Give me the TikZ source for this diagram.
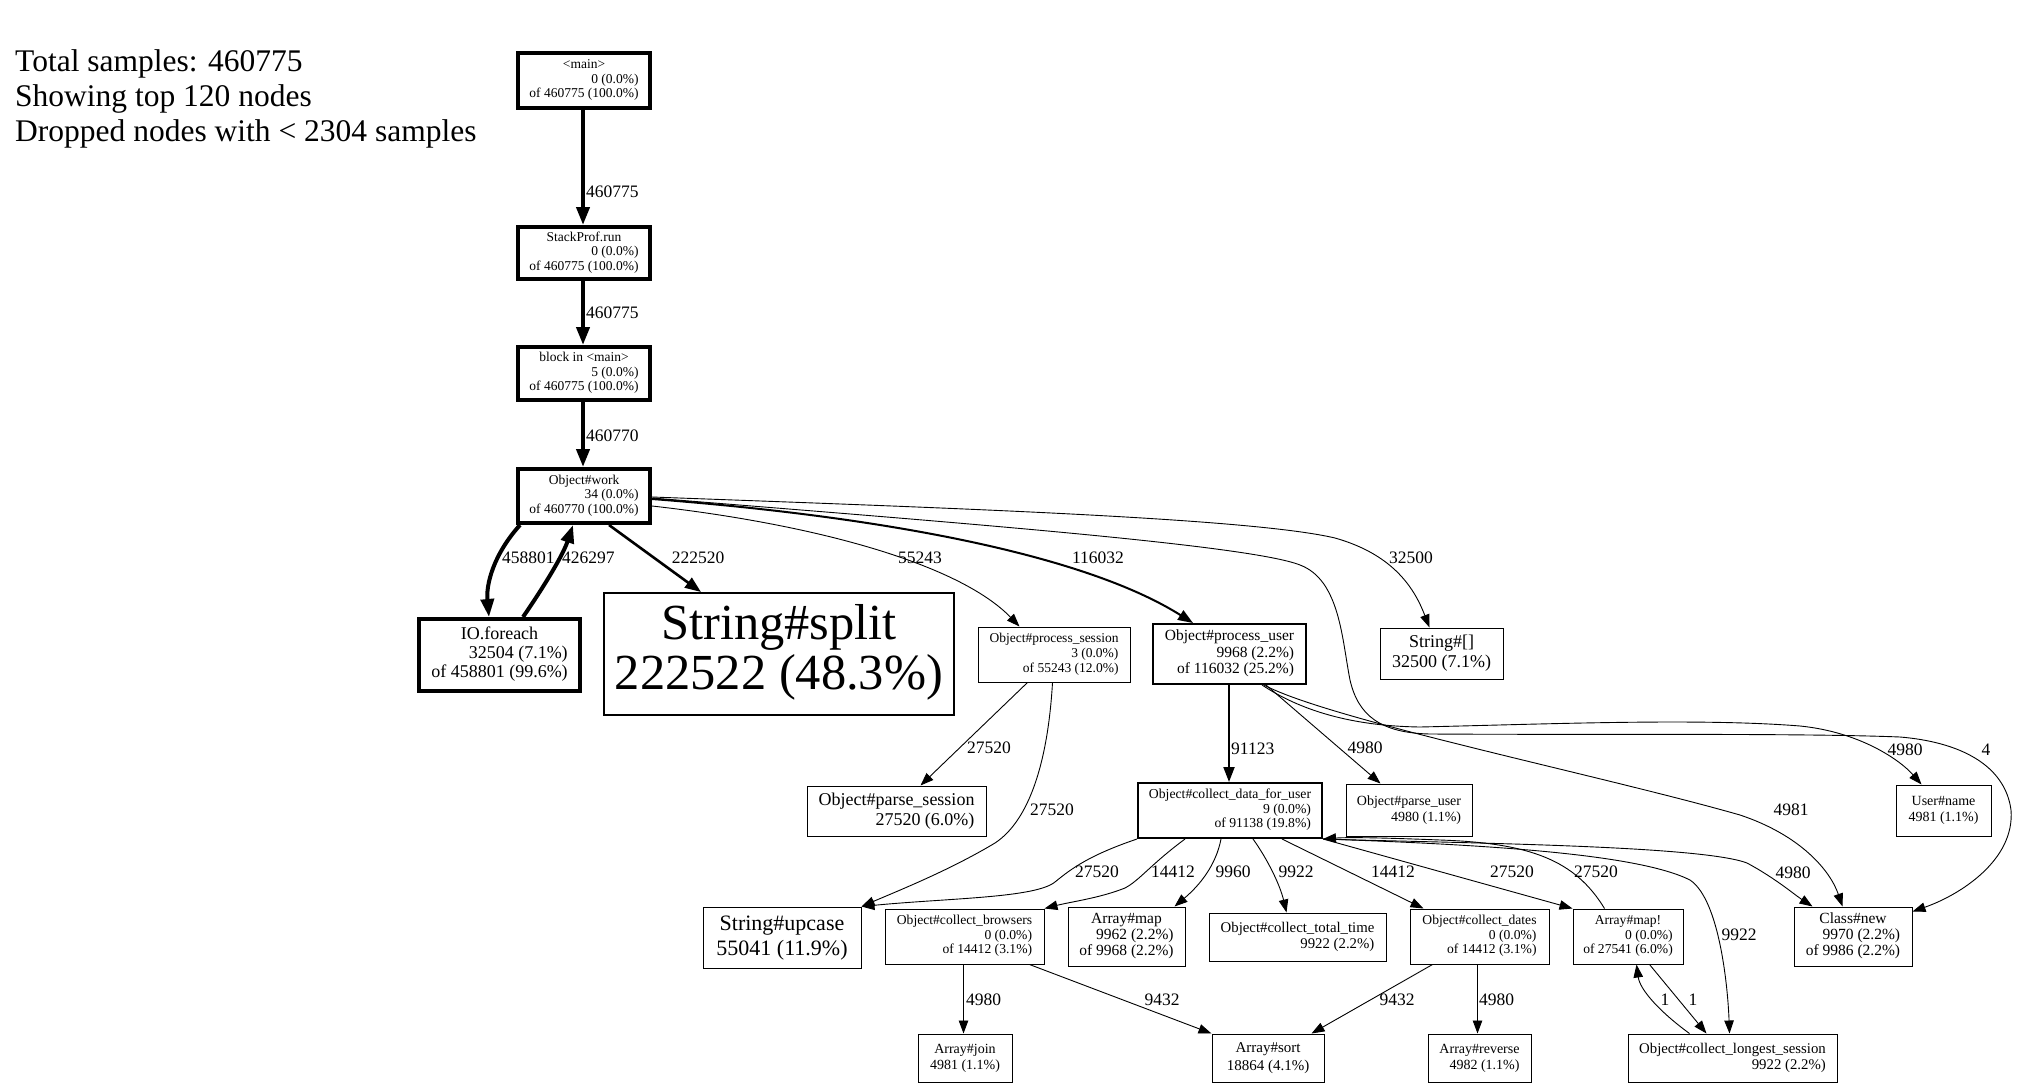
\documentclass[tikz,border=0pt]{standalone}
\usepackage{fontspec}
\setmainfont{Liberation Serif}
\usetikzlibrary{arrows.meta}
\newcommand\gnode[9]{\node[#2, font=\fontsize{#7}{#8}\selectfont, minimum width={#5-#3}, minimum height={#6-#4}] (#1) at ({(#3+#5)/2},{(#4+#6)/2}) {#9};}
\newcommand\lthree[3]{\begin{tabular}{@{}r@{}}\multicolumn{1}{@{}c@{}}{#1}\\#2\\#3\end{tabular}}
\newcommand\ltwo[2]{\begin{tabular}{@{}r@{}}\multicolumn{1}{@{}c@{}}{#1}\\#2\end{tabular}}
\begin{document}
\begin{tikzpicture}[x=1pt,y=-1pt,
  b1/.style={draw, line width=1pt, inner sep=0pt, rectangle},
  b2/.style={draw, line width=2pt, inner sep=0pt, rectangle},
  b4/.style={draw, line width=4pt, inner sep=0pt, rectangle},
  ln1/.style={draw, line width=0.9pt, -{Triangle[length=13pt,width=9.5pt]}},
  ln2/.style={draw, line width=2pt, -{Triangle[length=15pt,width=11pt]}},
  ln3/.style={draw, line width=2.6pt, -{Triangle[length=16pt,width=12pt]}},
  ln4/.style={draw, line width=4pt, -{Triangle[length=18pt,width=13pt]}},
  elab/.style={font=\fontsize{17.5}{20}\selectfont, inner sep=0pt},
  leg/.style={font=\fontsize{31.5}{35}\selectfont, inner sep=0pt, anchor=base west}]
\fill[white] (0,0) rectangle (2018,1089);
\useasboundingbox (0,0) rectangle (2018,1089);

% legend
\node[leg] (leg1) at (15,72) {Total samples: 460775};
\node[leg] (leg2) at (15,107) {Showing top 120 nodes};
\node[leg] (leg3) at (15,142) {Dropped nodes with < 2304 samples};

% nodes
\gnode{main}{b4}{518}{53}{650}{108}{13.5}{14.5}{\lthree{<main>}{0 (0.0\%)}{of 460775 (100.0\%)}}
\gnode{sp}{b4}{518}{227}{650}{279}{13.5}{14.5}{\lthree{StackProf.run}{0 (0.0\%)}{of 460775 (100.0\%)}}
\gnode{blk}{b4}{518}{347}{650}{400}{13.5}{14.5}{\lthree{block in <main>}{5 (0.0\%)}{of 460775 (100.0\%)}}
\gnode{work}{b4}{518}{469}{650}{523}{13.5}{14.5}{\lthree{Object\#work}{34 (0.0\%)}{of 460770 (100.0\%)}}
\gnode{io}{b4}{419}{619}{580}{691}{18}{19}{\lthree{IO.foreach}{32504 (7.1\%)}{of 458801 (99.6\%)}}
\gnode{split}{b2}{604}{593}{954}{715}{50.5}{50}{\ltwo{String\#split}{222522 (48.3\%)}}
\gnode{psess}{b1}{978}{627}{1130}{682}{13.5}{15}{\lthree{Object\#process\_session}{3 (0.0\%)}{of 55243 (12.0\%)}}
\gnode{puser}{b2}{1153}{624}{1306}{684}{15.5}{16.5}{\lthree{Object\#process\_user}{9968 (2.2\%)}{of 116032 (25.2\%)}}
\gnode{strbr}{b1}{1380}{628}{1503}{679}{18}{19.5}{\ltwo{String\#[]}{32500 (7.1\%)}}
\gnode{cdata}{b2}{1138}{783}{1322}{838}{13.7}{14.5}{\lthree{Object\#collect\_data\_for\_user}{9 (0.0\%)}{of 91138 (19.8\%)}}
\gnode{puse}{b1}{1346}{784}{1472}{836}{14}{16}{\ltwo{Object\#parse\_user}{4980 (1.1\%)}}
\gnode{pses}{b1}{807}{786}{986}{836}{18}{20}{\ltwo{Object\#parse\_session}{27520 (6.0\%)}}
\gnode{uname}{b1}{1896}{785}{1991}{836}{14}{16}{\ltwo{User\#name}{4981 (1.1\%)}}
\gnode{upcase}{b1}{703}{907}{861}{968}{22}{25}{\ltwo{String\#upcase}{55041 (11.9\%)}}
\gnode{cbrow}{b1}{885}{909}{1044}{964}{13.6}{14.5}{\lthree{Object\#collect\_browsers}{0 (0.0\%)}{of 14412 (3.1\%)}}
\gnode{amap}{b1}{1068}{907}{1185}{966}{15.5}{16}{\lthree{Array\#map}{9962 (2.2\%)}{of 9968 (2.2\%)}}
\gnode{ctot}{b1}{1209}{913}{1386}{961}{14.8}{16}{\ltwo{Object\#collect\_total\_time}{9922 (2.2\%)}}
\gnode{cdat}{b1}{1410}{909}{1549}{964}{13.6}{14.5}{\lthree{Object\#collect\_dates}{0 (0.0\%)}{of 14412 (3.1\%)}}
\gnode{amapb}{b1}{1573}{909}{1683}{964}{13.6}{14.5}{\lthree{Array\#map!}{0 (0.0\%)}{of 27541 (6.0\%)}}
\gnode{cnew}{b1}{1794}{907}{1912}{966}{15.5}{16}{\lthree{Class\#new}{9970 (2.2\%)}{of 9986 (2.2\%)}}
\gnode{ajoin}{b1}{918}{1034}{1012}{1082}{14}{16}{\ltwo{Array\#join}{4981 (1.1\%)}}
\gnode{asort}{b1}{1212}{1034}{1324}{1082}{15}{18}{\ltwo{Array\#sort}{18864 (4.1\%)}}
\gnode{arev}{b1}{1428}{1034}{1531}{1082}{14}{16}{\ltwo{Array\#reverse}{4982 (1.1\%)}}
\gnode{clong}{b1}{1628}{1034}{1837}{1082}{14.8}{16}{\ltwo{Object\#collect\_longest\_session}{9922 (2.2\%)}}

% edges
\draw[ln4] ([xshift=67]main.south west) -- ([xshift=67]sp.north west);
\node[elab, anchor=west] (l1) at (586,192) {460775};
\draw[ln4] ([xshift=67]sp.south west) -- ([xshift=67]blk.north west);
\node[elab, anchor=west] (l2) at (586,313) {460775};
\draw[ln4] ([xshift=67]blk.south west) -- ([xshift=67]work.north west);
\node[elab, anchor=west] (l3) at (586,436) {460770};

\draw[ln4] ([xshift=4]work.south west) .. controls (493,555) and (486,585) .. ([xshift=72]io.north west);
\node[elab, anchor=west] (l4) at (502,558) {458801};
\draw[ln4] ([xshift=106]io.north west) .. controls (545,585) and (563,555) .. ([xshift=57]work.south west);
\node[elab, anchor=west] (l5) at (562,558) {426297};
\draw[ln3] ([xshift=93]work.south west) -- ([xshift=98]split.north west);
\node[elab] (l6) at (698,558) {222520};

\draw[ln1] ([yshift=-39]work.north east) .. controls (820,525) and (960,565) .. ([xshift=42]psess.north west);
\node[elab] (l7) at (920,558) {55243};
\draw[ln2] ([yshift=-32]work.north east) .. controls (900,518) and (1090,558) .. ([xshift=41]puser.north west);
\node[elab] (l8) at (1098,558) {116032};
\draw[ln1] ([yshift=-30]work.north east) .. controls (950,508) and (1250,518) .. (1335,538) .. controls (1395,555) and (1415,590) .. ([xshift=50]strbr.north west);
\node[elab] (l9) at (1411,558) {32500};
\draw[ln1] ([yshift=-31]work.north east) .. controls (950,522) and (1250,545) .. (1300,565) .. controls (1340,580) and (1342,640) .. (1350,680) .. controls (1358,715) and (1380,733) .. (1430,734) .. controls (1600,735) and (1800,733) .. (1900,737) .. controls (1960,742) and (2005,765) .. (2011,810) .. controls (2015,860) and (1960,895) .. ([yshift=-5]cnew.north east);
\node[elab] (l10) at (1986,750) {4};

\draw[ln1] ([xshift=110]puser.south west) .. controls (1300,710) and (1350,726) .. (1420,727) .. controls (1550,724) and (1700,718) .. (1800,726) .. controls (1860,732) and (1900,760) .. ([xshift=26]uname.north west);
\node[elab] (l11) at (1905,750) {4980};
\draw[ln1] ([xshift=112]puser.south west) .. controls (1330,720) and (1600,775) .. (1740,815) .. controls (1800,835) and (1830,870) .. ([xshift=49]cnew.north west);
\node[elab] (l12) at (1791,810) {4981};
\draw[ln1] ([xshift=114]puser.south west) -- ([xshift=35]puse.north west);
\node[elab] (l13) at (1365,748) {4980};
\draw[ln2] ([xshift=77]puser.south west) -- ([xshift=92]cdata.north west);
\node[elab, anchor=west] (l14) at (1231,749) {91123};

\draw[ln1] ([xshift=50]psess.south west) -- ([xshift=114]pses.north west);
\node[elab] (l15) at (989,748) {27520};
\draw[ln1] ([xshift=75]psess.south west) .. controls (1048,760) and (1030,820) .. (995,843) .. controls (950,870) and (900,890) .. (upcase.north east);
\node[elab] (l16) at (1052,810) {27520};

\draw[ln1] (cdata.south west) .. controls (1090,855) and (1072,868) .. (1055,882) .. controls (1035,898) and (950,898) .. (upcase.north east);
\node[elab] (l17) at (1097,872) {27520};
\draw[ln1] ([xshift=48]cdata.south west) .. controls (1150,865) and (1140,880) .. (1125,888) .. controls (1100,898) and (1070,902) .. (cbrow.north east);
\node[elab] (l18) at (1173,872) {14412};
\draw[ln1] ([xshift=84]cdata.south west) .. controls (1216,865) and (1200,885) .. ([xshift=107]amap.north west);
\node[elab] (l19) at (1233,872) {9960};
\draw[ln1] ([xshift=116]cdata.south west) .. controls (1268,860) and (1280,885) .. ([xshift=78]ctot.north west);
\node[elab] (l20) at (1296,872) {9922};
\draw[ln1] ([xshift=145]cdata.south west) -- ([xshift=14]cdat.north west);
\node[elab] (l21) at (1393,872) {14412};
\draw[ln1] (cdata.south east) -- (amapb.north west);
\node[elab] (l22) at (1512,872) {27520};
\draw[ln1] ([xshift=32]amapb.north west) .. controls (1575,860) and (1530,843) .. (1440,840) .. controls (1390,838) and (1350,837) .. (cdata.south east);
\node[elab] (l23) at (1596,872) {27520};
\draw[ln1] (cdata.south east) .. controls (1450,843) and (1700,845) .. (1747,863) .. controls (1775,878) and (1795,895) .. ([xshift=19]cnew.north west);
\node[elab] (l24) at (1793,873) {4980};
\draw[ln1] (cdata.south east) .. controls (1500,845) and (1640,855) .. (1690,880) .. controls (1720,900) and (1728,990) .. ([xshift=102]clong.north west);
\node[elab] (l25) at (1739,935) {9922};

\draw[ln1] ([xshift=79]cbrow.south west) -- ([xshift=46]ajoin.north west);
\node[elab, anchor=west] (l26) at (966,1000) {4980};
\draw[ln1] ([xshift=145]cbrow.south west) -- (asort.north west);
\node[elab] (l27) at (1162,1000) {9432};
\draw[ln1] ([xshift=23]cdat.south west) -- ([xshift=-13]asort.north east);
\node[elab] (l28) at (1397,1000) {9432};
\draw[ln1] ([xshift=68]cdat.south west) -- ([xshift=50]arev.north west);
\node[elab, anchor=west] (l29) at (1479,1000) {4980};
\draw[ln1] ([xshift=77]amapb.south west) -- ([xshift=79]clong.north west);
\node[elab] (l30) at (1693,1000) {1};
\draw[ln1] ([xshift=62]clong.north west) .. controls (1660,1012) and (1640,990) .. ([xshift=64]amapb.south west);
\node[elab] (l31) at (1665,1000) {1};
\end{tikzpicture}
\end{document}
